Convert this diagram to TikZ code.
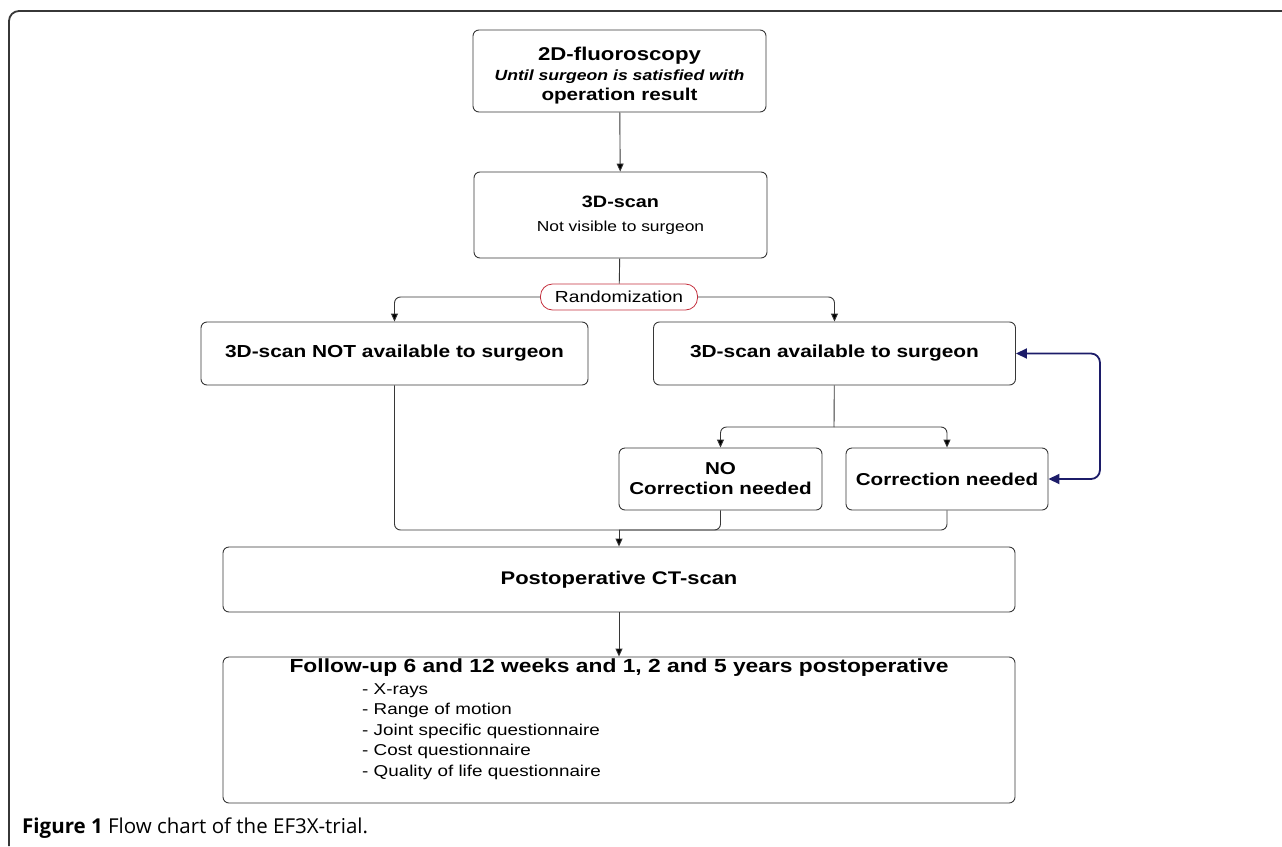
\documentclass[tikz,border=0pt]{standalone}
\usepackage{fontspec}
\setmainfont{Liberation Sans}[FakeStretch=1.2]
\newfontfamily\capfont{Open Sans}
\usetikzlibrary{arrows.meta,positioning}
\definecolor{boxline}{RGB}{55,55,55}
\definecolor{randred}{RGB}{196,48,62}
\definecolor{loopblue}{RGB}{28,28,105}

\tikzset{
  box/.style={draw=boxline,line width=0.9pt,rounded corners=6pt,align=center,inner sep=0pt},
  flow/.style={draw=boxline,line width=0.9pt,rounded corners=6pt,-{Triangle[length=8pt,width=7pt,fill=black]}},
  joinline/.style={draw=boxline,line width=0.9pt,rounded corners=6pt},
  loopline/.style={draw=loopblue,line width=1.8pt,rounded corners=9pt,{Triangle[length=11pt,width=10pt]}-{Triangle[length=11pt,width=10pt]}}
}

\begin{document}
\begin{tikzpicture}[x=1pt,y=-1pt,font=\bfseries\fontsize{17.2}{20}\selectfont]
\useasboundingbox (0,0) rectangle (1282,846);
% frame round the figure
\draw[line width=1.8pt,draw=boxline,rounded corners=10pt] (9,846) -- (9,11) -- (1282,11);

\node[box,minimum width=293pt,minimum height=82pt] (fluoro) at (619.5,71)
  {\fontsize{18.5}{21}\selectfont\rule{0pt}{23pt}2D-fluoroscopy\\ \fontsize{14.7}{19.5}\selectfont\itshape Until surgeon is satisfied with\\ operation result};
\node[box,minimum width=293pt,minimum height=86pt] (scan) at (620.5,215)
  {\fontsize{16.5}{19}\selectfont 3D-scan\\[4pt] \mdseries\fontsize{14.5}{18}\selectfont Not visible to surgeon};
\node[box,draw=randred,line width=0.8pt,rounded corners=12pt,minimum width=157pt,minimum height=26pt,
  font=\mdseries\fontsize{16}{18}\selectfont] (rand) at (619,297) {Randomization};

\node[box,minimum width=387pt,minimum height=63pt,font=\bfseries\fontsize{17.4}{20}\selectfont] (notavail) at (394.5,353.5) {3D-scan NOT available to surgeon};
\node[box,minimum width=362pt,minimum height=63pt,font=\bfseries\fontsize{17.4}{20}\selectfont] (avail) at (834.5,353.5) {3D-scan available to surgeon};
\node[box,minimum width=203pt,minimum height=62pt] (nocorr) at (720.5,479) {NO\\ Correction needed};
\node[box,minimum width=202pt,minimum height=62pt] (corr) at (947,479) {Correction needed};

\node[box,minimum width=792pt,minimum height=65pt,font=\bfseries\fontsize{18.3}{21}\selectfont] (post) at (619,579.5) {Postoperative CT-scan};
\node[box,minimum width=792pt,minimum height=146pt] (follow) at (619,730) {};
\node[font=\bfseries\fontsize{19}{21}\selectfont] (followhead) at (619,668) {Follow-up 6 and 12 weeks and 1, 2 and 5 years postoperative};
\node[anchor=north west,align=left,inner sep=0pt,font=\mdseries\fontsize{15.7}{20.5}\selectfont] (followlist) at (362,683)
  {- X-rays\\ - Range of motion\\ - Joint specific questionnaire\\ - Cost questionnaire\\ - Quality of life questionnaire};

\node[anchor=west,inner sep=0pt,font=\capfont\mdseries\fontsize{20.5}{23}\selectfont] (caption) at (22,828)
  {\textbf{Figure 1} Flow chart of the EF3X-trial.};

\coordinate (split) at (834,427);
\coordinate (merge) at (619,530);

\draw[flow] (fluoro) -- (scan);
\draw[joinline] (scan) -- (rand);
\draw[flow] (rand.west) -| (notavail.north);
\draw[flow] (rand.east) -| (avail.north);
\draw[joinline] (avail) -- (split);
\draw[flow] (split) -| (nocorr.north);
\draw[flow] (split) -| (corr.north);
\draw[loopline] (avail.east) -- ++(84,0) |- (corr.east);
\draw[joinline] (notavail.south) |- (merge);
\draw[joinline] (nocorr.south) |- (merge);
\draw[joinline] (corr.south) |- (merge);
\draw[flow] (merge) -- (post);
\draw[flow] (post) -- (follow);
\end{tikzpicture}
\end{document}
